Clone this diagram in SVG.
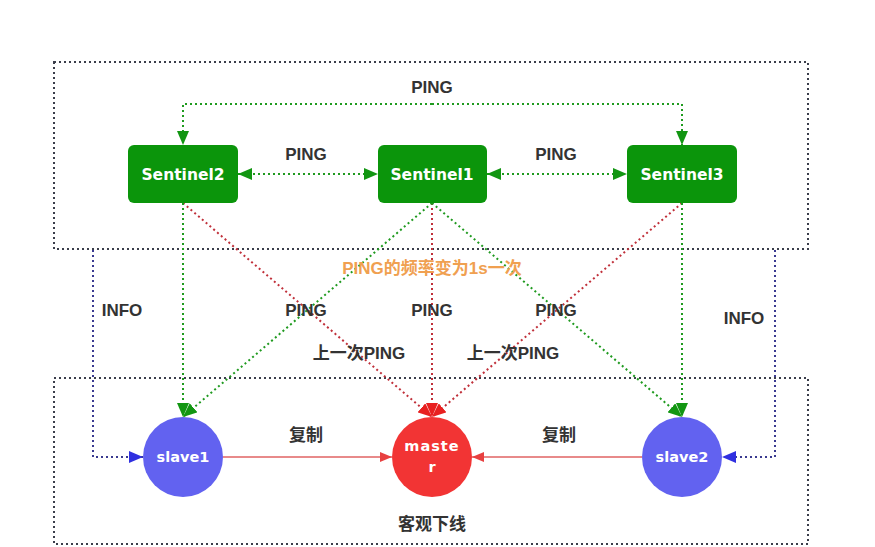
<svg xmlns="http://www.w3.org/2000/svg" width="875" height="547" viewBox="0 0 875 547">
<style>
.box{fill:none;stroke:#3a3d4a;stroke-width:2;stroke-dasharray:2 3}
.g{fill:none;stroke:#1f9a1f;stroke-width:2;stroke-dasharray:2 3}
.r{fill:none;stroke:#c0303a;stroke-width:2;stroke-dasharray:2 3}
.b{fill:none;stroke:#3a3a90;stroke-width:2;stroke-dasharray:2 3}
.s{fill:none;stroke:#e88a8a;stroke-width:2}
.sent{fill:#0b950b}
.lbl{font-family:"Liberation Sans","Noto Sans CJK SC",sans-serif;font-weight:bold;font-size:17px;fill:#333;text-anchor:middle}
.nt{font-family:"DejaVu Sans","Liberation Sans",sans-serif;font-weight:bold;font-size:15.5px;fill:#fff;text-anchor:middle}
.ct{font-family:"DejaVu Sans","Liberation Sans",sans-serif;font-weight:bold;font-size:14.5px;fill:#fff;text-anchor:middle}
</style>
<defs>
<marker id="ag" markerUnits="userSpaceOnUse" markerWidth="14" markerHeight="12" refX="14" refY="6" orient="auto-start-reverse"><path d="M0,0 L14,6 L0,12 z" fill="#129612"/></marker>
<marker id="ar" markerUnits="userSpaceOnUse" markerWidth="14" markerHeight="12" refX="14" refY="6" orient="auto"><path d="M0,0 L14,6 L0,12 z" fill="#e82020"/></marker>
<marker id="ab" markerUnits="userSpaceOnUse" markerWidth="14" markerHeight="12" refX="14" refY="6" orient="auto"><path d="M0,0 L14,6 L0,12 z" fill="#3030e0"/></marker>
<marker id="as" markerUnits="userSpaceOnUse" markerWidth="12" markerHeight="10" refX="12" refY="5" orient="auto"><path d="M0,0 L12,5 L0,10 z" fill="#e84040"/></marker>
</defs>
<rect width="875" height="547" fill="#fff"/>
<rect class="box" x="54" y="62" width="754" height="187"/>
<rect class="box" x="54" y="378" width="754" height="166"/>
<g id="connectors">
<path class="g" d="M432,104 H183 V145" marker-end="url(#ag)"/>
<path class="g" d="M432,104 H682 V145" marker-end="url(#ag)"/>
<line class="g" x1="238" y1="174" x2="378" y2="174" marker-start="url(#ag)" marker-end="url(#ag)"/>
<line class="g" x1="487" y1="174" x2="627" y2="174" marker-start="url(#ag)" marker-end="url(#ag)"/>
<line class="r" x1="183" y1="203" x2="432" y2="417" marker-end="url(#ar)"/>
<line class="r" x1="432" y1="203" x2="432" y2="417" marker-end="url(#ar)"/>
<line class="r" x1="682" y1="203" x2="432" y2="417" marker-end="url(#ar)"/>
<line class="g" x1="183" y1="203" x2="183" y2="417" marker-end="url(#ag)"/>
<line class="g" x1="432" y1="203" x2="183" y2="417" marker-end="url(#ag)"/>
<line class="g" x1="432" y1="203" x2="682" y2="417" marker-end="url(#ag)"/>
<line class="g" x1="682" y1="203" x2="682" y2="417" marker-end="url(#ag)"/>
<path class="b" d="M93,250 V457 H143" marker-end="url(#ab)"/>
<path class="b" d="M775,250 V457 H722" marker-end="url(#ab)"/>
<line class="s" x1="223" y1="457" x2="392" y2="457" marker-end="url(#as)"/>
<line class="s" x1="642" y1="457" x2="472" y2="457" marker-end="url(#as)"/>
</g>
<g id="sentinel2"><rect class="sent" x="128" y="145" width="110" height="58" rx="6"/><text class="nt" x="183" y="179.5">Sentinel2</text></g>
<g id="sentinel1"><rect class="sent" x="378" y="145" width="109" height="58" rx="6"/><text class="nt" x="432" y="179.5">Sentinel1</text></g>
<g id="sentinel3"><rect class="sent" x="627" y="145" width="110" height="58" rx="6"/><text class="nt" x="682" y="179.5">Sentinel3</text></g>
<g id="slave1"><circle cx="183" cy="457" r="40" fill="#6262f0"/><text class="ct" x="183" y="462">slave1</text></g>
<g id="master"><circle cx="432" cy="457" r="40" fill="#f23434"/><text class="ct" x="432" y="451" letter-spacing="1">maste</text><text class="ct" x="432" y="472">r</text></g>
<g id="slave2"><circle cx="682" cy="457" r="40" fill="#6262f0"/><text class="ct" x="682" y="462">slave2</text></g>
<g id="labels">
<text class="lbl" x="432" y="93">PING</text>
<text class="lbl" x="306" y="160">PING</text>
<text class="lbl" x="556" y="160">PING</text>
<text class="lbl" x="432" y="274" style="fill:#f0a050">PING的频率变为1s一次</text>
<text class="lbl" x="122" y="316">INFO</text>
<text class="lbl" x="306" y="316">PING</text>
<text class="lbl" x="432" y="316">PING</text>
<text class="lbl" x="556" y="316">PING</text>
<text class="lbl" x="744" y="324">INFO</text>
<text class="lbl" x="359" y="359">上一次PING</text>
<text class="lbl" x="513" y="359">上一次PING</text>
<text class="lbl" x="306" y="441">复制</text>
<text class="lbl" x="559" y="441">复制</text>
<text class="lbl" x="432" y="530">客观下线</text>
</g>
</svg>
